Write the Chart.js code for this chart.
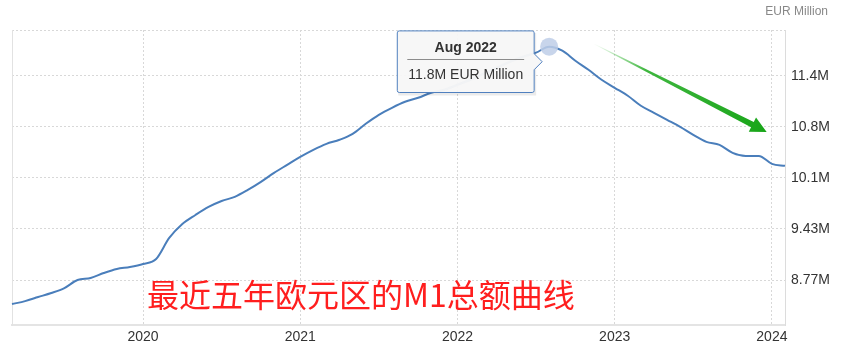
<!DOCTYPE html>
<html>
<head>
<meta charset="utf-8">
<script src="https://cdn.jsdelivr.net/npm/chart.js@4/dist/chart.umd.min.js"></script>
<style>
  html, body { margin: 0; padding: 0; background: #fff; }
  #wrap { position: relative; width: 850px; height: 361px; }
  #unit { position: absolute; right: 22px; top: 4px; font: 12px "Liberation Sans", Arial, sans-serif; color: #888; }
  #note { position: absolute; left: 147px; top: 277px; font: 32px "Noto Sans CJK SC", sans-serif; color: #ff1e1e; line-height: 32px; white-space: nowrap; }
</style>
</head>
<body>
<div id="wrap">
  <canvas id="m1Chart" width="850" height="361"></canvas>
  <div id="unit">EUR Million</div>
  <div id="note">最近五年欧元区的M1总额曲线</div>
</div>
<script>
const months = [
  'Mar 2019','Apr 2019','May 2019','Jun 2019','Jul 2019','Aug 2019','Sep 2019','Oct 2019','Nov 2019','Dec 2019',
  'Jan 2020','Feb 2020','Mar 2020','Apr 2020','May 2020','Jun 2020','Jul 2020','Aug 2020','Sep 2020','Oct 2020','Nov 2020','Dec 2020',
  'Jan 2021','Feb 2021','Mar 2021','Apr 2021','May 2021','Jun 2021','Jul 2021','Aug 2021','Sep 2021','Oct 2021','Nov 2021','Dec 2021',
  'Jan 2022','Feb 2022','Mar 2022','Apr 2022','May 2022','Jun 2022','Jul 2022','Aug 2022','Sep 2022','Oct 2022','Nov 2022','Dec 2022',
  'Jan 2023','Feb 2023','Mar 2023','Apr 2023','May 2023','Jun 2023','Jul 2023','Aug 2023','Sep 2023','Oct 2023','Nov 2023','Dec 2023',
  'Jan 2024','Feb 2024'
];

// M1, in M (of EUR million)
const m1Values = [
  8.453, 8.492, 8.545, 8.597, 8.662, 8.767, 8.793, 8.858, 8.911, 8.937,
  8.976, 9.041, 9.316, 9.499, 9.616, 9.721, 9.799, 9.852, 9.943, 10.048, 10.165, 10.270,
  10.374, 10.466, 10.544, 10.597, 10.675, 10.806, 10.923, 11.015, 11.093, 11.145, 11.211, 11.250,
  11.315, 11.381, 11.459, 11.538, 11.616, 11.681, 11.734, 11.812, 11.760, 11.629, 11.511, 11.381,
  11.276, 11.172, 11.041, 10.949, 10.858, 10.766, 10.662, 10.570, 10.531, 10.427, 10.387, 10.387,
  10.283, 10.257
];

const yTicks = [8.767, 9.433, 10.1, 10.767, 11.433];
const yMin = 8.18, yMax = 12.03;
const highlightIndex = 41;

// trend arrow, in data units (month index, value)
const arrowFrom = [44.4, 11.85];
const arrowTo = [57.6, 10.70];

Chart.defaults.font.family = '"Liberation Sans", Arial, sans-serif';
Chart.defaults.font.size = 14;
Chart.defaults.color = '#333';

Chart.Tooltip.positioners.leftOfPoint = function(items) {
  if (!items.length) return false;
  const el = items[0].element;
  return { x: el.x, y: el.y + 15, xAlign: 'right', yAlign: 'center' };
};

const arrowPlugin = {
  id: 'trendArrow',
  afterDatasetsDraw(chart) {
    const { ctx, scales: { x, y } } = chart;
    const x0 = x.getPixelForValue(arrowFrom[0]), y0 = y.getPixelForValue(arrowFrom[1]);
    const x1 = x.getPixelForValue(arrowTo[0]), y1 = y.getPixelForValue(arrowTo[1]);
    const len = Math.hypot(x1 - x0, y1 - y0);
    const ux = (x1 - x0) / len, uy = (y1 - y0) / len;
    const nx = -uy, ny = ux;
    const headLen = 16, headW = 8, shaftW = 3;
    const bx = x1 - ux * headLen, by = y1 - uy * headLen;
    const grad = ctx.createLinearGradient(x0, y0, x1, y1);
    grad.addColorStop(0, 'rgba(40,180,40,0)');
    grad.addColorStop(0.3, 'rgba(30,170,30,0.85)');
    grad.addColorStop(1, 'rgba(24,165,24,1)');
    ctx.save();
    ctx.fillStyle = grad;
    ctx.beginPath();
    ctx.moveTo(x0 + nx * 0.3, y0 + ny * 0.3);
    ctx.lineTo(bx + nx * shaftW, by + ny * shaftW);
    ctx.lineTo(bx + nx * headW, by + ny * headW);
    ctx.lineTo(x1, y1);
    ctx.lineTo(bx - nx * headW, by - ny * headW);
    ctx.lineTo(bx - nx * shaftW, by - ny * shaftW);
    ctx.lineTo(x0 - nx * 0.3, y0 - ny * 0.3);
    ctx.closePath();
    ctx.fill();
    ctx.restore();
  }
};

const tooltipExtras = {
  id: 'tooltipExtras',
  beforeTooltipDraw(chart, args) {
    const t = args.tooltip;
    if (!t.opacity) return;
    const ctx = chart.ctx;
    ctx.save();
    ctx.fillStyle = 'rgba(0,0,0,0.08)';
    ctx.fillRect(t.x + 1, t.y + 2, t.width + 1, t.height + 1);
    ctx.restore();
  },
  afterTooltipDraw(chart, args) {
    const t = args.tooltip;
    if (!t.opacity) return;
    const ctx = chart.ctx;
    const yy = Math.round(t.y + 9 + 14 * 1.2 + 2) + 0.5;
    ctx.save();
    ctx.strokeStyle = '#8c8c8c';
    ctx.lineWidth = 1;
    ctx.beginPath();
    ctx.moveTo(t.x + 10, yy);
    ctx.lineTo(t.x + t.width - 10, yy);
    ctx.stroke();
    ctx.restore();
  }
};

const chart = new Chart(document.getElementById('m1Chart'), {
  type: 'line',
  data: {
    labels: months,
    datasets: [{
      data: m1Values,
      yAxisID: 'y',
      borderColor: '#4a7ebb',
      borderWidth: 2,
      pointRadius: 0,
      pointHoverRadius: 9,
      pointHoverBorderWidth: 0,
      pointHoverBackgroundColor: 'rgba(190,206,232,0.85)',
      cubicInterpolationMode: 'monotone',
      fill: false
    }]
  },
  options: {
    responsive: false,
    animation: false,
    events: [],
    layout: { padding: { left: 12, top: 30, right: 0, bottom: 0 } },
    plugins: {
      legend: { display: false },
      title: { display: false },
      tooltip: {
        position: 'leftOfPoint',
        backgroundColor: 'rgba(247,247,247,0.97)',
        borderColor: '#5080bf',
        borderWidth: 1,
        cornerRadius: 2,
        caretSize: 8,
        caretPadding: 7,
        displayColors: false,
        padding: { x: 11, y: 9 },
        titleColor: '#333',
        titleFont: { size: 14, weight: 'bold' },
        titleAlign: 'center',
        titleMarginBottom: 10,
        bodyColor: '#333',
        bodyFont: { size: 14 },
        bodyAlign: 'center',
        callbacks: {
          title: items => items[0].label,
          label: item => item.parsed.y.toPrecision(3) + 'M EUR Million'
        }
      }
    },
    scales: {
      x: {
        type: 'category',
        afterFit: s => { s.height = 36; },
        ticks: {
          autoSkip: false,
          maxRotation: 0,
          padding: 4,
          color: '#333',
          callback: (v, i) => months[i].startsWith('Jan') ? months[i].slice(4) : ''
        },
        grid: {
          drawTicks: false,
          color: ctx => (months[ctx.index] || '').startsWith('Jan') ? '#d8d8d8' : 'transparent'
        },
        border: { display: true, color: '#e4e4e4', width: 2, dash: [2, 2] }
      },
      y: {
        position: 'right',
        min: yMin,
        max: yMax,
        afterFit: s => { s.width = 65; },
        afterBuildTicks: s => { s.ticks = yTicks.map(v => ({ value: v })).concat([{ value: yMax }]); },
        ticks: {
          padding: 6,
          color: '#333',
          callback: v => v === yMax ? '' : v.toPrecision(3) + 'M'
        },
        grid: { drawTicks: false, color: '#d8d8d8' },
        border: { display: true, color: '#dcdcdc', width: 1, dash: [2, 2] }
      },
      yl: {
        position: 'left',
        display: true,
        afterFit: s => { s.width = 0; },
        ticks: { display: false },
        grid: { drawOnChartArea: false, drawTicks: false },
        border: { display: true, color: '#e2e2e2', width: 1 }
      }
    }
  },
  plugins: [arrowPlugin, tooltipExtras]
});

const active = [{ datasetIndex: 0, index: highlightIndex }];
chart.setActiveElements(active);
const pt = chart.getDatasetMeta(0).data[highlightIndex];
chart.tooltip.setActiveElements(active, { x: pt.x, y: pt.y });
chart.update();
</script>
</body>
</html>
